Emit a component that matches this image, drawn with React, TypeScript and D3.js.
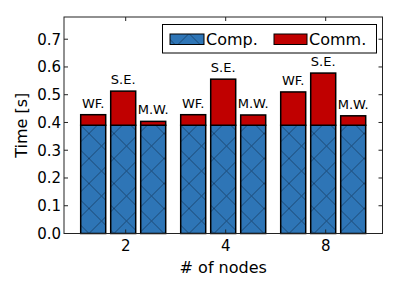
import React from "react";
import * as d3 from "d3";

const groups = ["2", "4", "8"];
const methods = ["WF.", "S.E.", "M.W."];
const compValues = [
  [0.39, 0.39, 0.39],
  [0.39, 0.39, 0.39],
  [0.39, 0.39, 0.39],
];
const commValues = [
  [0.038, 0.123, 0.014],
  [0.038, 0.166, 0.037],
  [0.12, 0.188, 0.034],
];
const yTicks = [0, 0.1, 0.2, 0.3, 0.4, 0.5, 0.6, 0.7];
const barOffsets = [-0.45, -0.15, 0.15];
const barWidth = 0.25;

const W = 398;
const H = 282;
const L = 64, R = 382.5, T = 17, B = 233.5;
const BLUE = "#2e75b6";
const RED = "#c00000";
const FONT = "DejaVu Sans";

export default function App() {
  const x = d3.scaleLinear().domain([-0.617, 2.568]).range([L, R]);
  const y = d3.scaleLinear().domain([0, 0.78]).range([B, T]);
  const bars: any[] = [];
  groups.forEach((g, gi) => {
    methods.forEach((m, mi) => {
      const x0 = x(gi + barOffsets[mi]);
      const x1 = x(gi + barOffsets[mi] + barWidth);
      const c = compValues[gi][mi];
      const t = c + commValues[gi][mi];
      bars.push(
        <g key={g + m}>
          <rect x={x0} y={y(c)} width={x1 - x0} height={y(0) - y(c)} fill={BLUE} />
          <rect x={x0} y={y(c)} width={x1 - x0} height={y(0) - y(c)} fill="url(#hx)" stroke="#000" strokeWidth={1.5} />
          <rect x={x0} y={y(t)} width={x1 - x0} height={y(c) - y(t)} fill={RED} stroke="#000" strokeWidth={1.5} />
          <text x={(x0 + x1) / 2} y={y(t) - 7} textAnchor="middle" fontSize={13} fontFamily={FONT}>{m}</text>
        </g>
      );
    });
  });
  return (
    <svg width={W} height={H} style={{ position: "absolute", left: 0, top: 0 }}>
      <defs>
        <pattern id="hx" patternUnits="userSpaceOnUse" width={25} height={25} x={L} y={B}>
          <path d="M0,0 L25,25 M0,25 L25,0" stroke="#163559" strokeWidth={0.7} fill="none" />
        </pattern>
      </defs>
      <rect width={W} height={H} fill="#fff" />
      {bars}
      <rect x={L} y={T} width={R - L} height={B - T} fill="none" stroke="#222" strokeWidth={1} />
      {yTicks.map((v) => (
        <g key={v}>
          <line x1={L} x2={L + 4} y1={y(v)} y2={y(v)} stroke="#222" />
          <line x1={R - 4} x2={R} y1={y(v)} y2={y(v)} stroke="#222" />
          <text x={L - 3} y={y(v)} dy="0.36em" textAnchor="end" fontSize={15} fontFamily={FONT}>{v.toFixed(1)}</text>
        </g>
      ))}
      {groups.map((g, gi) => (
        <g key={g}>
          <line x1={x(gi)} x2={x(gi)} y1={B} y2={B - 4} stroke="#222" />
          <line x1={x(gi)} x2={x(gi)} y1={T} y2={T + 4} stroke="#222" />
          <text x={x(gi)} y={251} textAnchor="middle" fontSize={15} fontFamily={FONT}>{g}</text>
        </g>
      ))}
      <text x={(L + R) / 2} y={273} textAnchor="middle" fontSize={16} fontFamily={FONT}># of nodes</text>
      <text transform={`translate(27,${(T + B) / 2}) rotate(-90)`} textAnchor="middle" fontSize={16} fontFamily={FONT}>Time [s]</text>
      <g>
        <rect x={162.5} y={24.5} width={214} height={28.5} fill="#fff" stroke="#000" strokeWidth={1} />
        <rect x={170} y={34} width={34} height={10.5} fill={BLUE} />
        <rect x={170} y={34} width={34} height={10.5} fill="url(#hx)" stroke="#000" strokeWidth={1} />
        <text x={206} y={44.5} fontSize={16} fontFamily={FONT}>Comp.</text>
        <rect x={274} y={34} width={33} height={10.5} fill={RED} stroke="#000" strokeWidth={1} />
        <text x={309} y={44.5} fontSize={16} fontFamily={FONT}>Comm.</text>
      </g>
    </svg>
  );
}
